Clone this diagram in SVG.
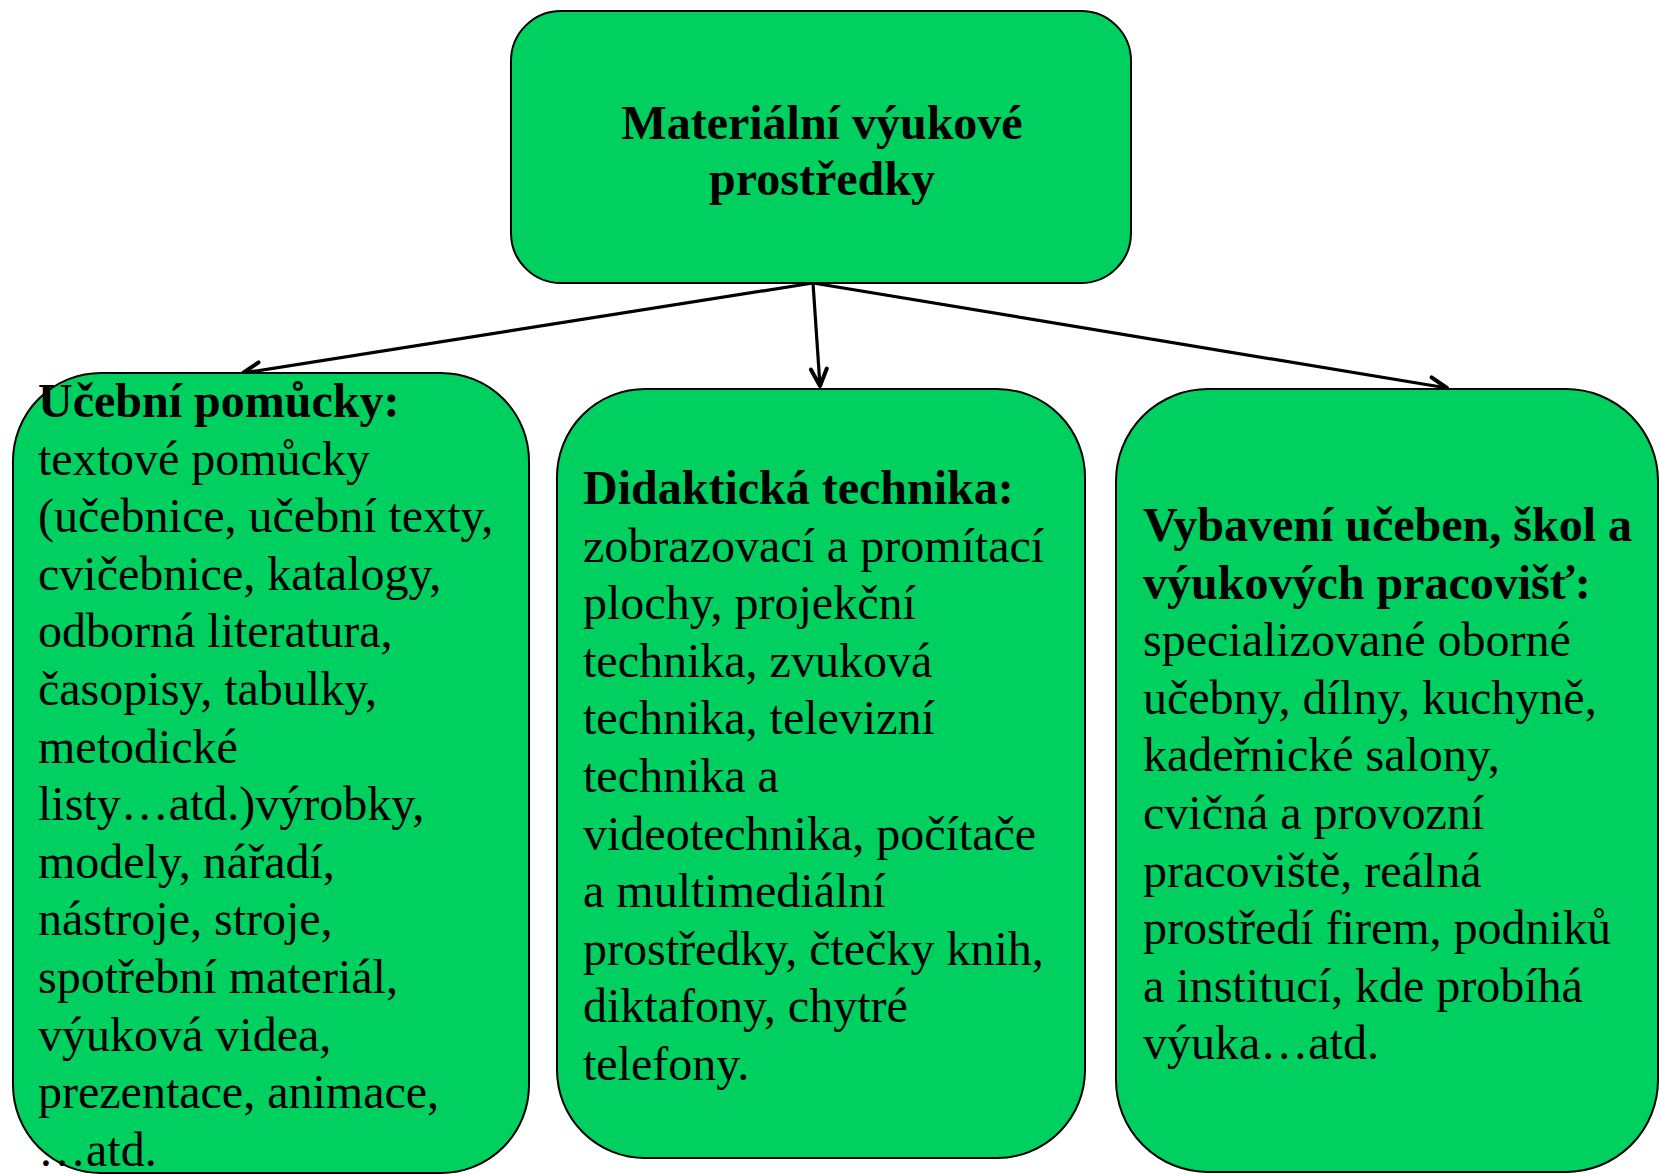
<svg xmlns="http://www.w3.org/2000/svg" width="1660" height="1174" viewBox="0 0 1660 1174">
<defs>
<marker id="arr" markerWidth="24" markerHeight="24" refX="20" refY="12" orient="auto" markerUnits="userSpaceOnUse">
<path d="M3,4 L20,12 L3,20" fill="none" stroke="#000" stroke-width="4" stroke-linecap="round" stroke-linejoin="round"/>
</marker>
<style>
.box{fill:#00D060;stroke:#000;stroke-width:2}
.t{font-family:"Liberation Serif","Times New Roman",serif;font-size:48px;fill:#000}
.b{font-weight:bold}
.c{stroke:#000;stroke-width:3.2;fill:none;marker-end:url(#arr)}
</style>
</defs>
<rect width="1660" height="1174" fill="#fff"/>
<g id="connectors">
<line class="c" x1="813" y1="283" x2="243" y2="373"/>
<line class="c" x1="813" y1="283" x2="820" y2="386"/>
<line class="c" x1="813" y1="283" x2="1447" y2="388"/>
</g>
<g id="node-top">
<rect class="box" x="511" y="11" width="620" height="272" rx="50" ry="50"/>
<text class="t b" text-anchor="middle" x="822" y="139">Materiální výukové</text>
<text class="t b" text-anchor="middle" x="822" y="195">prostředky</text>
</g>
<g id="node-left">
<rect class="box" x="13" y="373" width="516" height="800" rx="88" ry="88"/>
<text class="t" x="38" y="417"><tspan class="b">Učební pomůcky:</tspan>
<tspan x="38" y="474.6">textové pomůcky</tspan>
<tspan x="38" y="532.2">(učebnice, učební texty,</tspan>
<tspan x="38" y="589.8">cvičebnice, katalogy,</tspan>
<tspan x="38" y="647.4">odborná literatura,</tspan>
<tspan x="38" y="705">časopisy, tabulky,</tspan>
<tspan x="38" y="762.6">metodické</tspan>
<tspan x="38" y="820.2">listy…atd.)výrobky,</tspan>
<tspan x="38" y="877.8">modely, nářadí,</tspan>
<tspan x="38" y="935.4">nástroje, stroje,</tspan>
<tspan x="38" y="993">spotřební materiál,</tspan>
<tspan x="38" y="1050.6">výuková videa,</tspan>
<tspan x="38" y="1108.2">prezentace, animace,</tspan>
<tspan x="38" y="1165.8">…atd.</tspan></text>
</g>
<g id="node-middle">
<rect class="box" x="557" y="389" width="528" height="769" rx="88" ry="88"/>
<text class="t" x="583" y="504"><tspan class="b">Didaktická technika:</tspan>
<tspan x="583" y="561.6">zobrazovací a promítací</tspan>
<tspan x="583" y="619.2">plochy, projekční</tspan>
<tspan x="583" y="676.8">technika, zvuková</tspan>
<tspan x="583" y="734.4">technika, televizní</tspan>
<tspan x="583" y="792">technika a</tspan>
<tspan x="583" y="849.6">videotechnika, počítače</tspan>
<tspan x="583" y="907.2">a multimediální</tspan>
<tspan x="583" y="964.8">prostředky, čtečky knih,</tspan>
<tspan x="583" y="1022.4">diktafony, chytré</tspan>
<tspan x="583" y="1080">telefony.</tspan></text>
</g>
<g id="node-right">
<rect class="box" x="1116" y="389" width="542" height="783" rx="92" ry="92"/>
<text class="t" x="1143" y="541"><tspan class="b">Vybavení učeben, škol a</tspan>
<tspan class="b" x="1143" y="598.6">výukových pracovišť:</tspan>
<tspan x="1143" y="656.2">specializované oborné</tspan>
<tspan x="1143" y="713.8">učebny, dílny, kuchyně,</tspan>
<tspan x="1143" y="771.4">kadeřnické salony,</tspan>
<tspan x="1143" y="829">cvičná a provozní</tspan>
<tspan x="1143" y="886.6">pracoviště, reálná</tspan>
<tspan x="1143" y="944.2">prostředí firem, podniků</tspan>
<tspan x="1143" y="1001.8">a institucí, kde probíhá</tspan>
<tspan x="1143" y="1059.4">výuka…atd.</tspan></text>
</g>
</svg>
